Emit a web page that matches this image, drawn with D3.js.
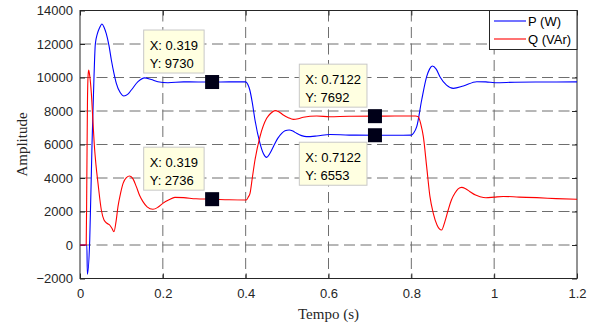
<!DOCTYPE html>
<html><head><meta charset="utf-8">
<script src="https://cdn.jsdelivr.net/npm/d3@7"></script>
<style>body{margin:0;background:#fff}svg{display:block}</style>
</head><body>
<svg id="chart" width="591" height="325"></svg>
<script>
// ---- data ----
const xTicks = [0, 0.2, 0.4, 0.6, 0.8, 1, 1.2];
const yTicks = [-2000, 0, 2000, 4000, 6000, 8000, 10000, 12000, 14000];
const seriesNames = ["P (W)", "Q (VAr)"];

const pTime = [0, 0.0165, 0.0178, 0.0235, 0.029, 0.0338, 0.037, 0.0418, 0.047, 0.053, 0.058, 0.0636, 0.07, 0.0757, 0.082, 0.0877, 0.097, 0.106, 0.115, 0.124, 0.14, 0.156, 0.172, 0.188, 0.2125, 0.25, 0.319, 0.36, 0.4, 0.405, 0.41, 0.416, 0.4225, 0.4346, 0.443, 0.4507, 0.458, 0.4668, 0.477, 0.487, 0.495, 0.505, 0.514, 0.523, 0.535, 0.547, 0.5715, 0.6036, 0.65, 0.7122, 0.76, 0.8, 0.806, 0.813, 0.825, 0.837, 0.844, 0.8507, 0.86, 0.869, 0.885, 0.9014, 0.9255, 0.958, 0.98, 1.002, 1.05, 1.1, 1.15, 1.2];
const pVals = [0, 0, -1750, 300, 6000, 10050, 12000, 12600, 12950, 13194, 13000, 12600, 11900, 11044, 10250, 9652, 9100, 8896, 8990, 9254, 9750, 9980, 9880, 9750, 9690, 9740, 9730, 9740, 9740, 9600, 9254, 8500, 7463, 6070, 5450, 5234, 5450, 5870, 6350, 6667, 6820, 6866, 6800, 6667, 6530, 6468, 6507, 6600, 6560, 6553, 6550, 6560, 6700, 7065, 8657, 10050, 10500, 10687, 10500, 10050, 9550, 9353, 9492, 9750, 9740, 9690, 9720, 9730, 9730, 9740];

const qTime = [0, 0.015, 0.0165, 0.018, 0.0195, 0.021, 0.0235, 0.0274, 0.031, 0.0345, 0.0385, 0.0435, 0.0515, 0.058, 0.065, 0.0716, 0.077, 0.082, 0.087, 0.0917, 0.098, 0.104, 0.112, 0.12, 0.128, 0.136, 0.144, 0.152, 0.162, 0.176, 0.188, 0.2, 0.215, 0.229, 0.25, 0.28, 0.319, 0.36, 0.4, 0.4024, 0.406, 0.4105, 0.416, 0.4225, 0.4346, 0.4507, 0.46, 0.4708, 0.48, 0.4909, 0.503, 0.515, 0.527, 0.539, 0.5715, 0.6036, 0.65, 0.7122, 0.76, 0.81, 0.817, 0.823, 0.829, 0.837, 0.845, 0.853, 0.862, 0.873, 0.881, 0.889, 0.897, 0.905, 0.913, 0.9215, 0.93, 0.9416, 0.955, 0.9658, 0.98, 1.0, 1.022, 1.06, 1.103, 1.15, 1.2];
const qVals = [0, 0, 4000, 8500, 10100, 10450, 10100, 9055, 7500, 6000, 4800, 3682, 2090, 1493, 1300, 1194, 1000, 796, 1400, 2289, 3100, 3682, 4020, 4119, 3950, 3483, 2950, 2587, 2280, 2130, 2250, 2488, 2700, 2846, 2830, 2760, 2736, 2700, 2690, 2700, 2850, 3085, 4000, 5075, 6468, 7562, 7850, 8020, 7960, 7761, 7600, 7502, 7540, 7622, 7701, 7661, 7690, 7692, 7700, 7700, 7650, 7200, 6468, 4677, 2885, 1891, 1200, 896, 1400, 2090, 2700, 3085, 3350, 3443, 3380, 3184, 2980, 2885, 2820, 2860, 2900, 2860, 2826, 2770, 2726];

const tipX = [0.319, 0.319, 0.7122, 0.7122];
const tipY = [9730, 2736, 7692, 6553];
const tipPlace = ["above", "above", "above", "below"];

// ---- layout ----
const L = 80, R = 577, T = 10.5, B = 278.5;
const svg = d3.select("#chart");
const x = d3.scaleLinear().domain([0, 1.2]).range([L, R]);
const y = d3.scaleLinear().domain([-2000, 14000]).range([B, T]);
const sans = "'Liberation Sans', Arial, Helvetica, sans-serif";
const serif = "'Liberation Serif', 'Times New Roman', serif";

svg.append("rect").attr("width", 591).attr("height", 325).attr("fill", "#fff");
svg.append("rect").attr("x", L).attr("y", T).attr("width", R - L).attr("height", B - T).attr("fill", "#fff");

// grid
const grid = svg.append("g").attr("stroke", "#6e6e6e").attr("stroke-width", 1).attr("stroke-dasharray", "11,5.5");
grid.selectAll("line.gx").data(xTicks.slice(1, -1)).enter().append("line")
  .attr("x1", d => x(d)).attr("x2", d => x(d)).attr("y1", T).attr("y2", B);
grid.selectAll("line.gy").data(yTicks.slice(1, -1)).enter().append("line")
  .attr("y1", d => y(d)).attr("y2", d => y(d)).attr("x1", L).attr("x2", R);

// axes
const axB = svg.append("g").attr("transform", `translate(0,${B})`)
  .call(d3.axisBottom(x).tickValues(xTicks).tickSizeInner(-5).tickSizeOuter(0).tickPadding(10).tickFormat(d3.format("")));
const axL = svg.append("g").attr("transform", `translate(${L},0)`)
  .call(d3.axisLeft(y).tickValues(yTicks).tickSizeInner(-5).tickSizeOuter(0).tickPadding(7).tickFormat(d3.format("d")));
const axT = svg.append("g").attr("transform", `translate(0,${T})`)
  .call(d3.axisTop(x).tickValues(xTicks).tickSizeInner(-5).tickSizeOuter(0).tickFormat(""));
const axR = svg.append("g").attr("transform", `translate(${R},0)`)
  .call(d3.axisRight(y).tickValues(yTicks).tickSizeInner(-5).tickSizeOuter(0).tickFormat(""));
[axB, axL, axT, axR].forEach(a => {
  a.select(".domain").remove();
  a.selectAll("line").attr("stroke", "#262626");
  a.selectAll("text").attr("font-family", sans).attr("font-size", 13).attr("fill", "#262626");
});
svg.append("rect").attr("x", L).attr("y", T).attr("width", R - L).attr("height", B - T)
  .attr("fill", "none").attr("stroke", "#262626").attr("stroke-width", 1);

// lines
const line = d3.line().x(d => x(d[0])).y(d => y(d[1])).curve(d3.curveMonotoneX);
const pData = pTime.map((t, i) => [t, pVals[i]]);
const qData = qTime.map((t, i) => [t, qVals[i]]);
svg.append("path").datum(pData).attr("d", line).attr("fill", "none").attr("stroke", "#0000ff").attr("stroke-width", 1.1);
svg.append("path").datum(qData).attr("d", line).attr("fill", "none").attr("stroke", "#ff0000").attr("stroke-width", 1.1);

// axis labels
svg.append("text").attr("x", (L + R) / 2).attr("y", 319).attr("text-anchor", "middle")
  .attr("font-family", serif).attr("font-size", 15).attr("fill", "#262626").text("Tempo (s)");
svg.append("text").attr("transform", `translate(27,${(T + B) / 2}) rotate(-90)`).attr("text-anchor", "middle")
  .attr("font-family", serif).attr("font-size", 15).attr("fill", "#262626").text("Amplitude");

// legend
const lg = svg.append("g");
lg.append("rect").attr("x", 489.5).attr("y", T).attr("width", R - 489.5).attr("height", 39)
  .attr("fill", "#fff").attr("stroke", "#262626").attr("stroke-width", 1);
const colors = ["#0000ff", "#ff0000"];
seriesNames.forEach((n, i) => {
  const yy = 21 + i * 18;
  lg.append("line").attr("x1", 494).attr("x2", 526).attr("y1", yy).attr("y2", yy).attr("stroke", colors[i]).attr("stroke-width", 1.1);
  lg.append("text").attr("x", 528).attr("y", yy + 4.5).attr("font-family", sans).attr("font-size", 13).attr("fill", "#000").text(n);
});

// data tips
tipX.forEach((tx, i) => {
  const mx = x(tx), my = y(tipY[i]);
  const g = svg.append("g");
  const rect = g.append("rect").attr("fill", "#ffffe1").attr("stroke", "#c8c8c8").attr("stroke-width", 1);
  const t1 = g.append("text").attr("font-family", sans).attr("font-size", 13).attr("fill", "#000").text("X: " + tx);
  const t2 = g.append("text").attr("font-family", sans).attr("font-size", 13).attr("fill", "#000").text("Y: " + tipY[i]);
  const w = Math.max(t1.node().getComputedTextLength(), t2.node().getComputedTextLength()) + 12;
  const h = 43;
  const right = mx - 8;
  const top = tipPlace[i] === "above" ? my - 9 - h : my + 7;
  rect.attr("x", right - w).attr("y", top).attr("width", w).attr("height", h);
  t1.attr("x", right - w + 6).attr("y", top + 20);
  t2.attr("x", right - w + 6).attr("y", top + 38);
  g.append("rect").attr("x", mx - 7).attr("y", my - 7).attr("width", 14).attr("height", 14).attr("fill", "#000018");
});
</script>
</body></html>
